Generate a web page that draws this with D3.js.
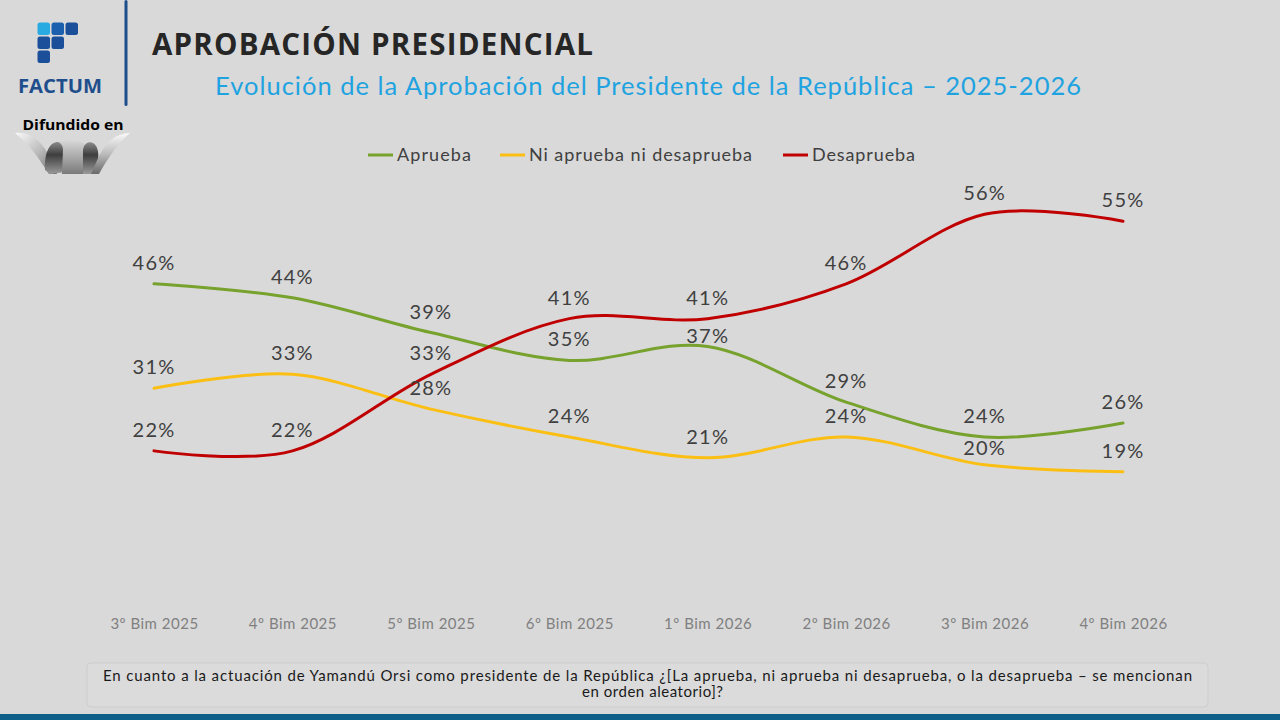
<!DOCTYPE html>
<html><head><meta charset="utf-8">
<script src="https://cdn.jsdelivr.net/npm/d3@7/dist/d3.min.js"></script>
<style>
html,body{margin:0;padding:0;background:#d9d9d9;}
svg{display:block;}
</style></head>
<body>
<svg id="c" width="1280" height="720"></svg>
<script>
const categories = ["3º Bim 2025","4º Bim 2025","5º Bim 2025","6º Bim 2025","1º Bim 2026","2º Bim 2026","3º Bim 2026","4º Bim 2026"];
const aprueba = [46,44,39,35,37,29,24,26];
const niNi = [31,33,28,24,21,24,20,19];
const desaprueba = [22,22,33,41,41,46,56,55];
const seriesNames = ["Aprueba","Ni aprueba ni desaprueba","Desaprueba"];

const colors = ["#77a22d","#fbbf14","#c00000"];
const seriesVals = [aprueba, niNi, desaprueba];
// label nudges (px) to avoid overlaps, keyed "series-index"
const labelNudge = {"0-4": 11, "1-6": 4};

const svg = d3.select("#c");
svg.append("rect").attr("width",1280).attr("height",720).attr("fill","#d9d9d9");

const x = d3.scalePoint().domain(categories).range([154,1123]);
const y = d3.scaleLinear().domain([0,60]).range([604,186.4]);

// ---- header / logos ----
const g0 = svg.append("g");
const sq = [[0,0,"#29abe2"],[1,0,"#1b5fae"],[2,0,"#1b4f9a"],[0,1,"#1b4f9a"],[1,1,"#1b4f9a"],[0,2,"#1b4f9a"]];
sq.forEach(([i,j,c])=>{
  g0.append("rect").attr("x",37.5+i*14).attr("y",22.5+j*14).attr("width",12.5).attr("height",12.5)
    .attr("rx",2.5).attr("fill",c);
});
g0.append("text").attr("x",60).attr("y",93).attr("text-anchor","middle")
  .attr("font-family","Open Sans, sans-serif").attr("font-weight","700").attr("font-size",19)
  .attr("fill","#1f4e8c").attr("textLength",84).attr("lengthAdjust","spacingAndGlyphs").text("FACTUM");
g0.append("rect").attr("x",124.5).attr("y",0).attr("width",3).attr("height",106).attr("rx",1.5).attr("fill","#1f4e8c");
g0.append("text").attr("x",73).attr("y",130).attr("text-anchor","middle")
  .attr("font-family","Open Sans, sans-serif").attr("font-weight","700").attr("font-size",15)
  .attr("fill","#000").attr("textLength",101).attr("lengthAdjust","spacingAndGlyphs").text("Difundido en");

const defs = svg.append("defs");
function grad(id, x2, y2, stops){
  const g = defs.append("linearGradient").attr("id",id).attr("x1","0").attr("y1","0").attr("x2",x2).attr("y2",y2);
  stops.forEach(([o,c])=>g.append("stop").attr("offset",o).attr("stop-color",c));
}
grad("ribL","1","1",[[0,"#fafafa"],[0.5,"#bdbdbd"],[1,"#6a6a6a"]]);
grad("ribR","0","1",[[0,"#fafafa"],[0.5,"#bdbdbd"],[1,"#6a6a6a"]]);
grad("dark","0","1",[[0,"#8a8a8a"],[0.4,"#3e3e3e"],[1,"#9a9a9a"]]);
grad("mid","0","1",[[0,"#d8d8d8"],[0.6,"#a0a0a0"],[1,"#7a7a7a"]]);
const w = svg.append("g");
w.append("path").attr("fill","url(#ribL)")
 .attr("d","M15,133 C30,131 40,140 47,152 L57,174 L49,174 C40,160 30,145 15,133 Z");
w.append("path").attr("fill","url(#dark)")
 .attr("d","M45,170 C44,152 50,142 58,142 C63,142 65,146 65,151 L65,172 L50,174 Z");
w.append("path").attr("fill","url(#mid)")
 .attr("d","M58,142 C66,139 78,139 85,144 L83,174 L62,174 L63,150 C63,146 61,143 58,142 Z");
w.append("path").attr("fill","url(#dark)")
 .attr("d","M83,150 C84,143 89,141 93,143 C98,146 99,154 98,160 L92,174 L83,174 Z");
w.append("path").attr("fill","url(#ribR)")
 .attr("d","M130,133 C116,133 106,142 99,156 L91,174 L99,174 C108,158 118,143 130,133 Z");

// titles
svg.append("text").attr("x",152).attr("y",55)
  .attr("font-family","Open Sans, sans-serif").attr("font-weight","700").attr("font-size",29.5)
  .attr("fill","#262626").attr("textLength",441).attr("lengthAdjust","spacing").text("APROBACIÓN PRESIDENCIAL");
svg.append("text").attr("x",215).attr("y",95)
  .attr("font-family","Lato, sans-serif").attr("font-size",25.5)
  .attr("fill","#1fa3e0").attr("textLength",866).attr("lengthAdjust","spacing")
  .text("Evolución de la Aprobación del Presidente de la República – 2025-2026");

// legend
const legX = [368,500,783];
const legW = [74,223,103];
const leg = svg.append("g");
seriesNames.forEach((n,i)=>{
  leg.append("line").attr("x1",legX[i]).attr("x2",legX[i]+25).attr("y1",155).attr("y2",155)
    .attr("stroke",colors[i]).attr("stroke-width",3);
  leg.append("text").attr("x",legX[i]+29).attr("y",161)
    .attr("font-family","Lato, sans-serif").attr("font-size",18).attr("fill","#404040")
    .attr("textLength",legW[i]).attr("lengthAdjust","spacing").text(n);
});

// x axis labels
const xAxis = d3.axisBottom(x).tickSize(0).tickPadding(0);
const ax = svg.append("g").attr("transform","translate(0,618)").call(xAxis);
ax.select(".domain").remove();
ax.selectAll("text").attr("font-family","Lato, sans-serif").attr("font-size",15)
  .attr("letter-spacing","0.5").attr("fill","#808080");

// lines
const line = d3.line().x((d,i)=>x(categories[i])).y(d=>y(d)).curve(d3.curveCardinal.tension(0));
seriesVals.forEach((vals,s)=>{
  svg.append("path").datum(vals).attr("d",line).attr("fill","none")
    .attr("stroke",colors[s]).attr("stroke-width",3).attr("stroke-linecap","round");
});

// labels
seriesVals.forEach((vals,s)=>{
  svg.append("g").selectAll("text").data(vals).join("text")
    .attr("x",(d,i)=>x(categories[i]))
    .attr("y",(d,i)=>y(d)-14+(labelNudge[s+"-"+i]||0))
    .attr("text-anchor","middle")
    .attr("font-family","Lato, sans-serif").attr("font-size",20)
    .attr("letter-spacing","1.2")
    .attr("fill","#404040").text(d=>d+"%");
});

// bottom question box
svg.append("rect").attr("x",87).attr("y",663).attr("width",1121).attr("height",44).attr("rx",4)
  .attr("fill","#dbdbdb").attr("stroke","#cdcdcd").attr("stroke-width",1);
const q = svg.append("text").attr("font-family","Lato, sans-serif").attr("font-size",15)
  .attr("fill","#1a1a1a");
q.append("tspan").attr("x",103).attr("y",681).attr("textLength",1089).attr("lengthAdjust","spacing")
  .text("En cuanto a la actuación de Yamandú Orsi como presidente de la República ¿[La aprueba, ni aprueba ni desaprueba, o la desaprueba – se mencionan");
q.append("tspan").attr("x",582).attr("y",697).attr("textLength",141).attr("lengthAdjust","spacing")
  .text("en orden aleatorio]?");

// bottom bar
svg.append("rect").attr("x",0).attr("y",714).attr("width",1280).attr("height",6).attr("fill","#0f6088");
</script>
</body></html>
